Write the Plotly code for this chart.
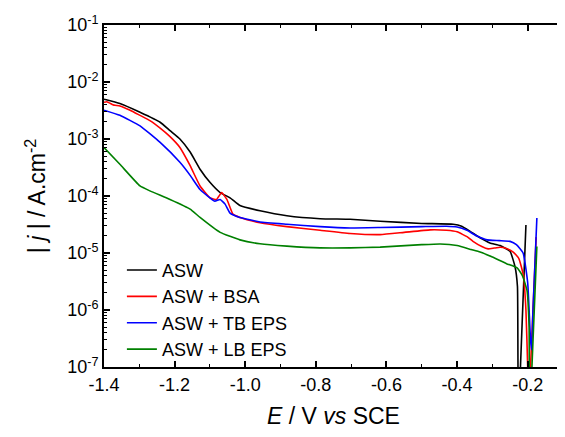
import plotly.graph_objects as go

# ASW
asw_x = [-1.4, -1.355, -1.298, -1.241, -1.213, -1.185, -1.156, -1.128, -1.10, -1.071, -1.043, -1.015, -0.958,
         -0.882, -0.788, -0.703, -0.618, -0.5, -0.411, -0.387, -0.363, -0.335, -0.307, -0.278, -0.25,
         -0.236, -0.229, -0.2245, -0.2215, -0.2205, -0.205]
asw_y = [5.0e-3, 4.2e-3, 2.95e-3, 1.97e-3, 1.4e-3, 1.0e-3, 5.9e-4, 2.95e-4, 1.74e-4, 1.15e-4, 9.3e-5, 6.8e-5, 5.5e-5,
         4.5e-5, 4.0e-5, 3.9e-5, 3.6e-5, 3.3e-5, 3.2e-5, 2.95e-5, 2.4e-5, 1.85e-5, 1.5e-5, 1.35e-5, 1.07e-5,
         5.8e-6, 2.6e-6, 1e-8, 1e-8, 1e-7, 3.1e-5]

# ASW + BSA
bsa_x = [-1.4, -1.392, -1.375, -1.369, -1.355, -1.326, -1.298, -1.27, -1.241, -1.213, -1.185, -1.156, -1.128,
         -1.10, -1.081, -1.067, -1.052, -1.043, -1.035, -1.015, -0.958, -0.882, -0.788, -0.703, -0.618, -0.55,
         -0.476, -0.43, -0.4, -0.37, -0.355, -0.33, -0.312, -0.295, -0.278, -0.26, -0.241, -0.225, -0.212,
         -0.205, -0.2, -0.197, -0.194, -0.192, -0.176]
bsa_y = [4.4e-3, 4.5e-3, 4.0e-3, 3.9e-3, 3.8e-3, 3.2e-3, 2.6e-3, 2.1e-3, 1.55e-3, 1.1e-3, 7.1e-4, 3.4e-4, 1.5e-4,
         9.3e-5, 8.7e-5, 1.15e-4, 8.7e-5, 6.3e-5, 4.8e-5, 4.2e-5, 3.4e-5, 2.9e-5, 2.5e-5, 2.2e-5, 2.1e-5, 2.3e-5,
         2.55e-5, 2.5e-5, 2.35e-5, 1.9e-5, 1.6e-5, 1.3e-5, 1.18e-5, 1.22e-5, 1.26e-5, 1.2e-5, 1.04e-5, 8.0e-6, 4.0e-6,
         1.0e-6, 1e-7, 1e-8, 1e-8, 1e-7, 1.9e-5]

# ASW + TB EPS
tb_x = [-1.4, -1.355, -1.298, -1.241, -1.185, -1.156, -1.128, -1.10, -1.086, -1.071, -1.057, -1.043, -1.015,
        -0.958, -0.882, -0.788, -0.703, -0.618, -0.5, -0.43, -0.4, -0.372, -0.345, -0.315, -0.28, -0.25, -0.232,
        -0.213, -0.2, -0.192, -0.189, -0.185, -0.174]
tb_y = [3.2e-3, 2.6e-3, 1.7e-3, 8.7e-4, 3.9e-4, 2.3e-4, 1.3e-4, 9.3e-5, 8.1e-5, 8.7e-5, 7.2e-5, 5.0e-5, 4.2e-5,
        3.5e-5, 3.2e-5, 2.9e-5, 2.75e-5, 2.8e-5, 2.9e-5, 2.95e-5, 2.85e-5, 2.5e-5, 2.0e-5, 1.7e-5, 1.65e-5, 1.6e-5, 1.4e-5,
        1.0e-5, 3.0e-6, 3.0e-7, 2.0e-7, 1.0e-6, 4.1e-5]

# ASW + LB EPS
lb_x = [-1.4, -1.355, -1.298, -1.27, -1.213, -1.156, -1.128, -1.071, -1.015, -0.958, -0.882, -0.788, -0.703,
        -0.618, -0.5, -0.448, -0.4, -0.36, -0.335, -0.3, -0.26, -0.23, -0.215, -0.202, -0.196, -0.193, -0.19,
        -0.188, -0.174]
lb_y = [7.1e-4, 3.6e-4, 1.5e-4, 1.23e-4, 8.7e-5, 5.9e-5, 4.2e-5, 2.3e-5, 1.7e-5, 1.45e-5, 1.32e-5, 1.23e-5, 1.23e-5,
        1.27e-5, 1.4e-5, 1.44e-5, 1.35e-5, 1.15e-5, 1.04e-5, 8.5e-6, 6.5e-6, 5.5e-6, 4.0e-6, 2.2e-6, 5e-7, 1e-8, 1e-8,
        1e-7, 1.3e-5]

series = [
    ("ASW", asw_x, asw_y, "#000000"),
    ("ASW + BSA", bsa_x, bsa_y, "#ff0000"),
    ("ASW + TB EPS", tb_x, tb_y, "#0000ff"),
    ("ASW + LB EPS", lb_x, lb_y, "#008000"),
]

y_tickvals = [1e-7, 1e-6, 1e-5, 1e-4, 1e-3, 1e-2, 1e-1]
y_ticktext = ["10<sup>-7</sup>", "10<sup>-6</sup>", "10<sup>-5</sup>", "10<sup>-4</sup>",
              "10<sup>-3</sup>", "10<sup>-2</sup>", "10<sup>-1</sup>"]
x_tickvals = [-1.4, -1.2, -1.0, -0.8, -0.6, -0.4, -0.2]
x_ticktext = ["-1.4", "-1.2", "-1.0", "-0.8", "-0.6", "-0.4", "-0.2"]

fig = go.Figure()
for name, xs, ys, col in series:
    fig.add_trace(go.Scatter(x=xs, y=ys, mode="lines", name=name,
                             line=dict(color=col, width=1.6, shape="spline", smoothing=0.4)))

FONT = "Liberation Sans, Arial, sans-serif"
# page body has an 8px margin: figure is sized/placed to compensate
fig.update_layout(
    width=557, height=421,
    margin=dict(l=96, r=2, t=17, b=62),
    paper_bgcolor="white", plot_bgcolor="white",
    font=dict(family=FONT, color="#000000", size=18),
    showlegend=True,
    legend=dict(x=0.039, y=0.337, xanchor="left", yanchor="top",
                bgcolor="rgba(0,0,0,0)", font=dict(size=18, family=FONT),
                itemwidth=30),
)
fig.update_xaxes(
    range=[-1.4, -0.1], tickvals=x_tickvals, ticktext=x_ticktext,
    ticks="inside", ticklen=6, tickwidth=1.5, tickcolor="black",
    showline=True, linecolor="black", linewidth=1.8, mirror="allticks",
    showgrid=False, zeroline=False, tickfont=dict(size=18), automargin=False,
    minor=dict(ticks="inside", ticklen=3, tickwidth=1.2, dtick=0.1, tick0=-1.4, tickcolor="black", showgrid=False),
    title=dict(text="<i>E</i> / V <i>vs</i> SCE", font=dict(size=23), standoff=14),
)
fig.update_yaxes(
    type="log", range=[-7, -1], tickvals=y_tickvals, ticktext=y_ticktext,
    ticks="inside", ticklen=6, tickwidth=1.5, tickcolor="black",
    showline=True, linecolor="black", linewidth=1.8, mirror="allticks",
    showgrid=False, zeroline=False, tickfont=dict(size=18), automargin=False,
    minor=dict(ticks="inside", ticklen=3, tickwidth=1, dtick="D1", tickcolor="black", showgrid=False),
    title=dict(text="| <i>j</i> | / A.cm<sup>-2</sup>", font=dict(size=23)),
)

fig.write_html("out.html")
